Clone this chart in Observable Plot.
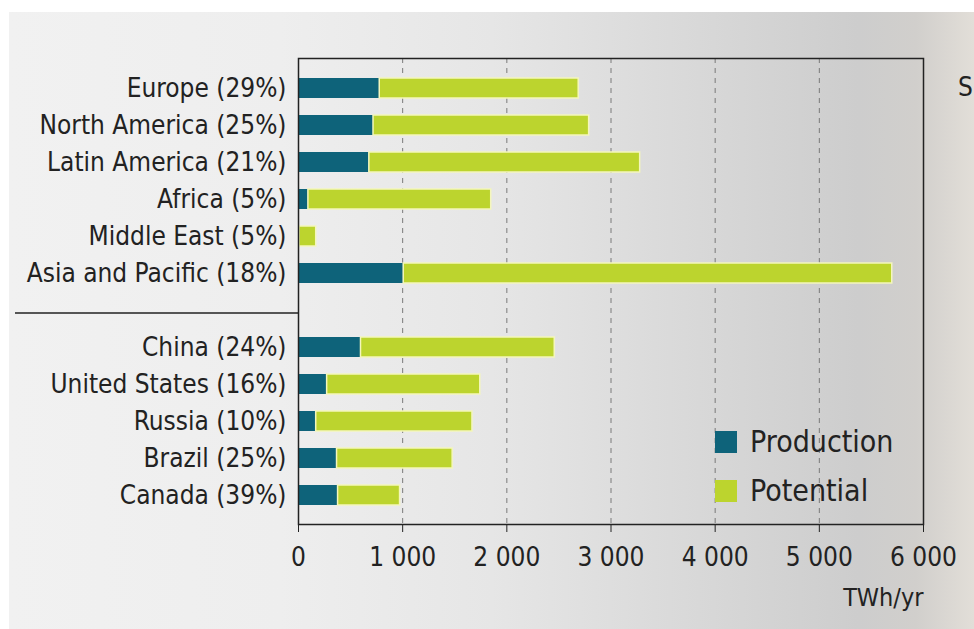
<!DOCTYPE html>
<html>
<head>
<meta charset="utf-8">
<script src="https://cdn.jsdelivr.net/npm/d3@7"></script>
<script src="https://cdn.jsdelivr.net/npm/@observablehq/plot@0.6"></script>
<style>
  html, body { margin: 0; padding: 0; background: #ffffff; overflow: hidden; }
  #wrap { position: relative; width: 974px; height: 629px; overflow: hidden; font-family: "DejaVu Sans Condensed", "DejaVu Sans", sans-serif; }
  #bg { position: absolute; left: 9px; top: 12px; right: 0; bottom: 0;
        background: linear-gradient(90deg, #f1f1f1 0%, #eeeeee 28%, #e6e6e6 50%, #d9d9d9 70%, #cdcdcd 88%, #d1cfcc 94%, #e2ded8 100%); }
  #chart { position: absolute; left: 0; top: 0; }
  .legend { position: absolute; left: 715px; font-size: 30px; color: #222; display: flex; align-items: center; }
  .legend .sw { width: 22px; height: 22px; margin-right: 13px; }
  #cut { position: absolute; left: 958px; top: 72px; font-size: 26px; color: #222; }
</style>
</head>
<body>
<div id="wrap">
  <div id="bg"></div>
  <div id="chart"></div>
  <div id="cut">S</div>
</div>
<script>
const regions = ["Europe (29%)", "North America (25%)", "Latin America (21%)", "Africa (5%)", "Middle East (5%)", "Asia and Pacific (18%)"];
const regionProduction = [780, 720, 680, 95, 9, 1010];
const regionPotential = [2690, 2790, 3280, 1850, 170, 5700];
const countries = ["China (24%)", "United States (16%)", "Russia (10%)", "Brazil (25%)", "Canada (39%)"];
const countryProduction = [600, 275, 170, 370, 380];
const countryPotential = [2460, 1745, 1670, 1480, 975];
const xTicks = [0, 1000, 2000, 3000, 4000, 5000, 6000];
const gridTicks = [1000, 2000, 3000, 4000, 5000];
const seriesNames = ["Production", "Potential"];
const seriesColors = ["#0e637a", "#bcd42e"];
const axisLabel = "TWh/yr";
const spacer = "";

const rows = [
  ...regions.map((name, i) => ({name, production: regionProduction[i], potential: regionPotential[i]})),
  ...countries.map((name, i) => ({name, production: countryProduction[i], potential: countryPotential[i]}))
];
const yDomain = [...regions, spacer, ...countries];
const fmt = d => d3.format(",")(d).replace(/,/g, " ");

const plot = Plot.plot({
  width: 974,
  height: 629,
  marginLeft: 298,
  marginRight: 51,
  marginTop: 58,
  marginBottom: 105,
  style: {background: "transparent", fontFamily: "'DejaVu Sans Condensed', 'DejaVu Sans', sans-serif", color: "#222"},
  x: {domain: [0, 6000], ticks: xTicks},
  y: {domain: yDomain, paddingInner: 0.46, paddingOuter: 0.526},
  marks: [
    Plot.ruleX(gridTicks, {stroke: "#7a7a7a", strokeWidth: 1, strokeDasharray: "5,5"}),
    Plot.barX(rows, {y: "name", x1: 0, x2: "production", fill: seriesColors[0]}),
    Plot.barX(rows, {y: "name", x1: "production", x2: "potential", fill: seriesColors[1], stroke: "#f4f6bc", strokeWidth: 1.5}),
    Plot.frame({stroke: "#222", strokeWidth: 1.5}),
    Plot.axisX({ticks: xTicks, tickFormat: fmt, tickSize: 8, tickPadding: 15, fontSize: 26, label: null, stroke: "#222"}),
    Plot.axisY({tickSize: 0, tickPadding: 12, fontSize: 26, label: null, tickFormat: d => d}),
    Plot.text([axisLabel], {frameAnchor: "bottom-right", dy: 81, textAnchor: "end", fontSize: 25, fill: "#222"})
  ]
});
document.getElementById("chart").appendChild(plot);

// separator line between the two groups, placed through the y scale
const ys = plot.scale("y");
const sepY = ys.apply(spacer) + ys.bandwidth / 2 + 3;
d3.select(plot).append("line")
  .attr("x1", 15).attr("x2", 298)
  .attr("y1", sepY).attr("y2", sepY)
  .attr("stroke", "#222").attr("stroke-width", 1.5);

// legend
const wrap = document.getElementById("wrap");
const legendTops = [424, 473];
seriesNames.forEach((name, i) => {
  const el = document.createElement("div");
  el.className = "legend";
  el.style.top = legendTops[i] + "px";
  el.innerHTML = `<div class="sw" style="background:${seriesColors[i]}"></div><span>${name}</span>`;
  wrap.appendChild(el);
});
</script>
</body>
</html>
